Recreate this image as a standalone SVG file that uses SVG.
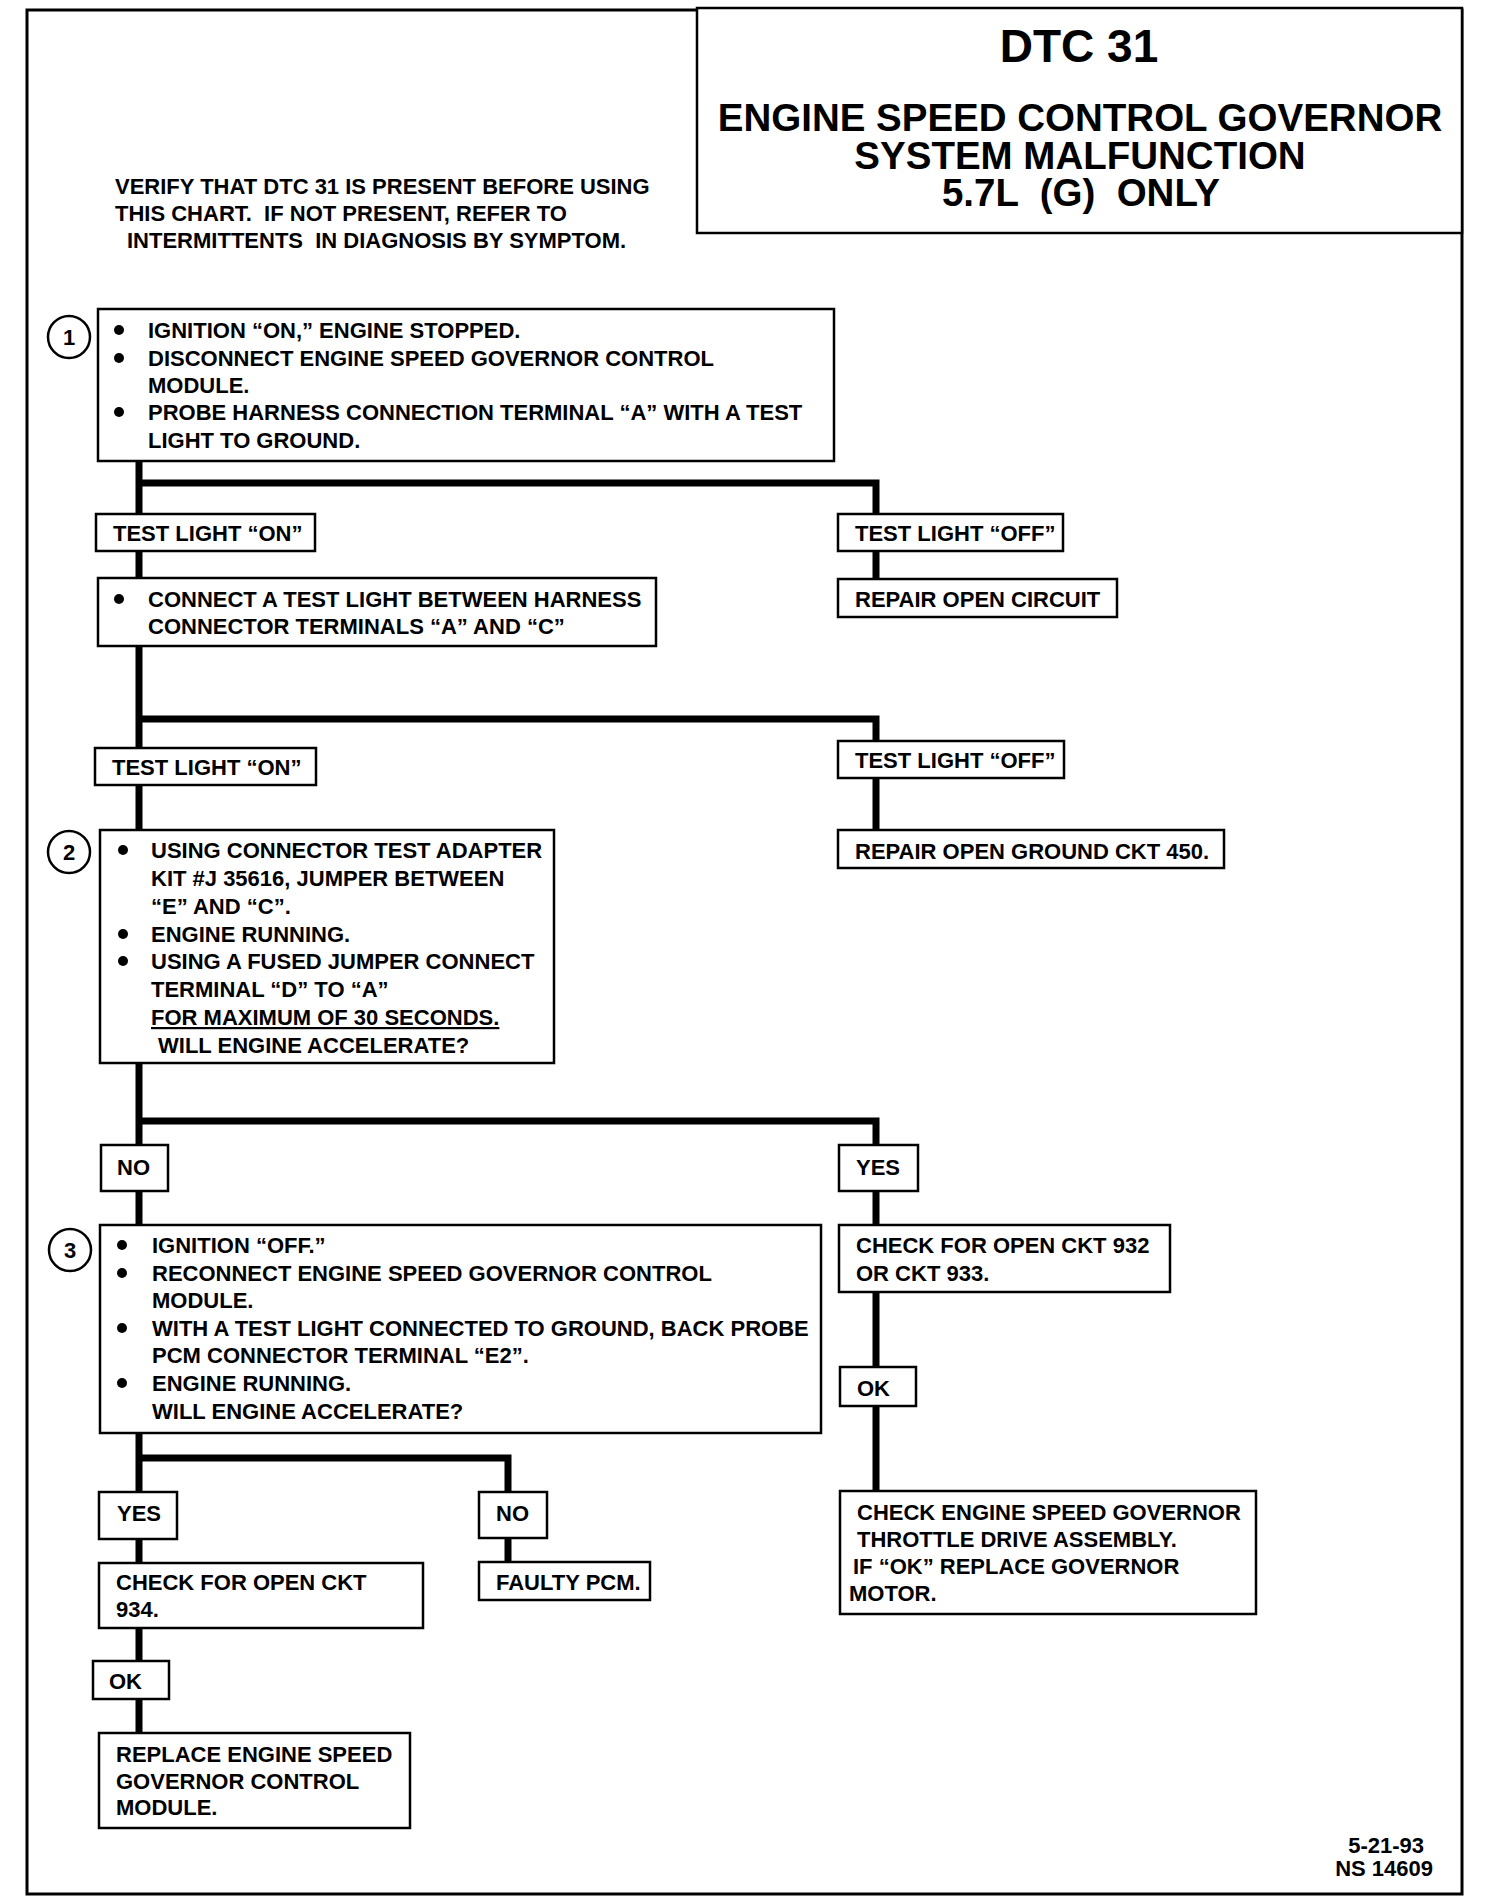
<svg xmlns="http://www.w3.org/2000/svg" width="1488" height="1902" viewBox="0 0 1488 1902">
<style>
.t{font-family:"Liberation Sans",Arial,sans-serif;font-weight:bold;font-size:22px;fill:#000}
.ttl{font-family:"Liberation Sans",Arial,sans-serif;font-weight:bold;fill:#000;text-anchor:middle}
.box{fill:#fff;stroke:#000;stroke-width:2.5}
.conn{fill:none;stroke:#000;stroke-width:7;stroke-linejoin:miter;stroke-linecap:butt}
.circ{fill:#fff;stroke:#000;stroke-width:2.5}
.num{font-family:"Liberation Sans",Arial,sans-serif;font-weight:bold;font-size:22px;text-anchor:middle;fill:#000}
.bul{fill:#000}
</style>
<rect width="1488" height="1902" fill="#fff"/>
<rect id="frame" x="27" y="10" width="1435" height="1884" fill="none" stroke="#000" stroke-width="3"/>

<g id="connectors">
<path class="conn" d="M139 461 V1733"/>
<path class="conn" d="M139 483 H876 V579"/>
<path class="conn" d="M139 719 H876 V830"/>
<path class="conn" d="M139 1121 H876 V1491"/>
<path class="conn" d="M139 1458 H508 V1562"/>
</g>

<g id="title">
<rect class="box" x="697" y="8" width="765" height="225" stroke-width="3"/>
<text class="ttl" x="1079" y="62" font-size="46">DTC 31</text>
<text class="ttl" x="1080" y="131" font-size="38.5">ENGINE SPEED CONTROL GOVERNOR</text>
<text class="ttl" x="1080" y="169" font-size="38.5">SYSTEM MALFUNCTION</text>
<text class="ttl" x="1081" y="206" font-size="38.5" xml:space="preserve">5.7L  (G)  ONLY</text>
</g>

<g id="verify">
<text class="t" x="115" y="194">VERIFY THAT DTC 31 IS PRESENT BEFORE USING</text>
<text class="t" x="115" y="221" xml:space="preserve">THIS CHART.  IF NOT PRESENT, REFER TO</text>
<text class="t" x="127" y="248" xml:space="preserve">INTERMITTENTS  IN DIAGNOSIS BY SYMPTOM.</text>
</g>

<g id="step1">
<circle class="circ" cx="69" cy="337" r="21"/>
<text class="num" x="69" y="345">1</text>
<rect class="box" x="98" y="309" width="736" height="152"/>
<circle class="bul" cx="119" cy="330" r="5"/>
<circle class="bul" cx="119" cy="358" r="5"/>
<circle class="bul" cx="119" cy="412" r="5"/>
<text class="t" x="148" y="338">IGNITION “ON,” ENGINE STOPPED.</text>
<text class="t" x="148" y="366">DISCONNECT ENGINE SPEED GOVERNOR CONTROL</text>
<text class="t" x="148" y="393">MODULE.</text>
<text class="t" x="148" y="420">PROBE HARNESS CONNECTION TERMINAL “A” WITH A TEST</text>
<text class="t" x="148" y="448">LIGHT TO GROUND.</text>
</g>

<g id="on1">
<rect class="box" x="96" y="514" width="219" height="37"/>
<text class="t" x="113" y="541">TEST LIGHT “ON”</text>
</g>
<g id="off1">
<rect class="box" x="838" y="514" width="225" height="37"/>
<text class="t" x="855" y="541">TEST LIGHT “OFF”</text>
</g>
<g id="repair1">
<rect class="box" x="838" y="579" width="279" height="38"/>
<text class="t" x="855" y="607">REPAIR OPEN CIRCUIT</text>
</g>
<g id="connect">
<rect class="box" x="98" y="578" width="558" height="68"/>
<circle class="bul" cx="119" cy="599" r="5"/>
<text class="t" x="148" y="607">CONNECT A TEST LIGHT BETWEEN HARNESS</text>
<text class="t" x="148" y="634">CONNECTOR TERMINALS “A” AND “C”</text>
</g>

<g id="on2">
<rect class="box" x="95" y="748" width="221" height="37"/>
<text class="t" x="112" y="775">TEST LIGHT “ON”</text>
</g>
<g id="off2">
<rect class="box" x="838" y="741" width="226" height="37"/>
<text class="t" x="855" y="768">TEST LIGHT “OFF”</text>
</g>
<g id="repair2">
<rect class="box" x="838" y="830" width="386" height="38"/>
<text class="t" x="855" y="859">REPAIR OPEN GROUND CKT 450.</text>
</g>

<g id="step2">
<circle class="circ" cx="69" cy="852" r="21"/>
<text class="num" x="69" y="860">2</text>
<rect class="box" x="100" y="830" width="454" height="233"/>
<circle class="bul" cx="123" cy="850" r="5"/>
<circle class="bul" cx="123" cy="934" r="5"/>
<circle class="bul" cx="123" cy="961" r="5"/>
<text class="t" x="151" y="858">USING CONNECTOR TEST ADAPTER</text>
<text class="t" x="151" y="886">KIT #J 35616, JUMPER BETWEEN</text>
<text class="t" x="151" y="914">“E” AND “C”.</text>
<text class="t" x="151" y="942">ENGINE RUNNING.</text>
<text class="t" x="151" y="969">USING A FUSED JUMPER CONNECT</text>
<text class="t" x="151" y="997">TERMINAL “D” TO “A”</text>
<text class="t" x="151" y="1025" text-decoration="underline">FOR MAXIMUM OF 30 SECONDS.</text>
<text class="t" x="158" y="1053">WILL ENGINE ACCELERATE?</text>
</g>

<g id="no1">
<rect class="box" x="101" y="1145" width="67" height="46"/>
<text class="t" x="117" y="1175">NO</text>
</g>
<g id="yes1">
<rect class="box" x="839" y="1145" width="79" height="46"/>
<text class="t" x="856" y="1175">YES</text>
</g>

<g id="step3">
<circle class="circ" cx="70" cy="1250" r="21"/>
<text class="num" x="70" y="1258">3</text>
<rect class="box" x="100" y="1225" width="721" height="208"/>
<circle class="bul" cx="122" cy="1245" r="5"/>
<circle class="bul" cx="122" cy="1273" r="5"/>
<circle class="bul" cx="122" cy="1328" r="5"/>
<circle class="bul" cx="122" cy="1383" r="5"/>
<text class="t" x="152" y="1253">IGNITION “OFF.”</text>
<text class="t" x="152" y="1281">RECONNECT ENGINE SPEED GOVERNOR CONTROL</text>
<text class="t" x="152" y="1308">MODULE.</text>
<text class="t" x="152" y="1336">WITH A TEST LIGHT CONNECTED TO GROUND, BACK PROBE</text>
<text class="t" x="152" y="1363">PCM CONNECTOR TERMINAL “E2”.</text>
<text class="t" x="152" y="1391">ENGINE RUNNING.</text>
<text class="t" x="152" y="1419">WILL ENGINE ACCELERATE?</text>
</g>

<g id="check932">
<rect class="box" x="839" y="1225" width="331" height="67"/>
<text class="t" x="856" y="1253">CHECK FOR OPEN CKT 932</text>
<text class="t" x="856" y="1281">OR CKT 933.</text>
</g>
<g id="okright">
<rect class="box" x="840" y="1367" width="76" height="39"/>
<text class="t" x="857" y="1396">OK</text>
</g>
<g id="throttle">
<rect class="box" x="840" y="1491" width="416" height="123"/>
<text class="t" x="857" y="1520">CHECK ENGINE SPEED GOVERNOR</text>
<text class="t" x="857" y="1547">THROTTLE DRIVE ASSEMBLY.</text>
<text class="t" x="853" y="1574">IF “OK” REPLACE GOVERNOR</text>
<text class="t" x="849" y="1601">MOTOR.</text>
</g>

<g id="yes2">
<rect class="box" x="99" y="1492" width="78" height="47"/>
<text class="t" x="117" y="1521">YES</text>
</g>
<g id="no2">
<rect class="box" x="479" y="1492" width="68" height="46"/>
<text class="t" x="496" y="1521">NO</text>
</g>
<g id="faulty">
<rect class="box" x="479" y="1562" width="171" height="38"/>
<text class="t" x="496" y="1590">FAULTY PCM.</text>
</g>
<g id="check934">
<rect class="box" x="99" y="1563" width="324" height="65"/>
<text class="t" x="116" y="1590">CHECK FOR OPEN CKT</text>
<text class="t" x="116" y="1617">934.</text>
</g>
<g id="okleft">
<rect class="box" x="93" y="1661" width="76" height="38"/>
<text class="t" x="109" y="1689">OK</text>
</g>
<g id="replace">
<rect class="box" x="99" y="1733" width="311" height="95"/>
<text class="t" x="116" y="1762">REPLACE ENGINE SPEED</text>
<text class="t" x="116" y="1789">GOVERNOR CONTROL</text>
<text class="t" x="116" y="1815">MODULE.</text>
</g>

<g id="footer">
<text class="t" x="1424" y="1853" text-anchor="end">5-21-93</text>
<text class="t" x="1433" y="1876" text-anchor="end">NS 14609</text>
</g>
</svg>
